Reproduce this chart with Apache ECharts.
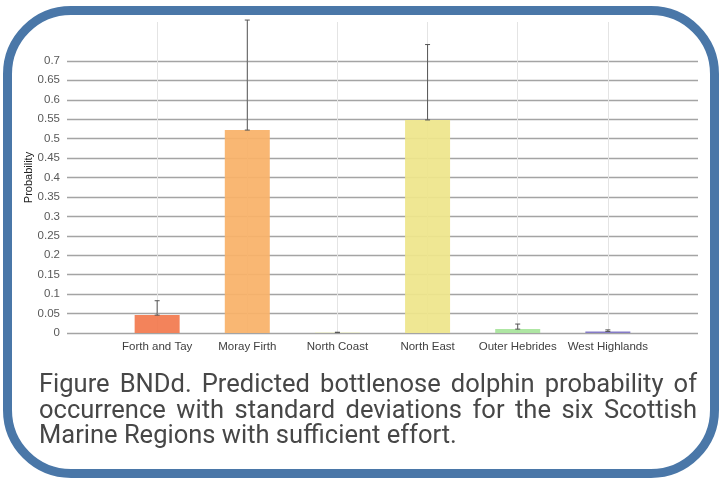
<!DOCTYPE html>
<html>
<head>
<meta charset="utf-8">
<script src="https://cdn.jsdelivr.net/npm/echarts@6/dist/echarts.min.js"></script>
<style>
  html, body { margin: 0; padding: 0; background: #ffffff; }
  #wrap { position: relative; width: 721px; height: 479px; overflow: hidden; background: #ffffff; }
  #frame {
    position: absolute; left: 3px; top: 6px; width: 716px; height: 472px;
    box-sizing: border-box; border: 9px solid #4a77a8; border-radius: 68px;
  }
  #chart { position: absolute; left: 0; top: 0; width: 721px; height: 479px; }
  #caption {
    position: absolute; left: 39px; top: 371px; width: 658px;
    font-family: Roboto, "Noto Sans", sans-serif; font-size: 25.5px; line-height: 25.5px;
    color: #474747;
  }
  #caption div { white-space: nowrap; }
  #caption .j { text-align: justify; text-align-last: justify; }
</style>
</head>
<body>
<div id="wrap">
  <div id="frame"></div>
  <div id="chart"></div>
  <div id="caption">
    <div class="j">Figure BNDd. Predicted bottlenose dolphin probability of</div>
    <div class="j">occurrence with standard deviations for the six Scottish</div>
    <div>Marine Regions with sufficient effort.</div>
  </div>
</div>
<script>
// Scottish Marine Regions and predicted occurrence probability (mean, standard deviation)
const regions = ['Forth and Tay', 'Moray Firth', 'North Coast', 'North East', 'Outer Hebrides', 'West Highlands'];
const meanProb = [0.046, 0.522, 0.001, 0.548, 0.010, 0.004];
const sdProb = [0.037, 0.283, 0.001, 0.194, 0.013, 0.004];
const barColors = ['#f27a4f', '#f9b168', '#eef0b8', '#eee58b', '#a8e49c', '#7d72c4'];

// Value-axis settings
const yMin = 0;
const yMax = 0.8;
const yStep = 0.05;
const yLabelMax = 0.7;

// Empty categories at both ends give the half-band margins of the axis
const axisCategories = [''].concat(regions, ['']);

// Horizontal gridlines: grey up to 0.7, hidden above
const gridCount = Math.round((yMax - yMin) / yStep) + 1;
const gridColors = [];
for (let i = 0; i < gridCount; i++) {
  gridColors.push(yMin + i * yStep <= yLabelMax + 1e-9 ? '#a4a4a4' : 'rgba(0,0,0,0)');
}

const chart = echarts.init(document.getElementById('chart'), null, { renderer: 'canvas' });

chart.setOption({
  animation: false,
  backgroundColor: 'transparent',
  textStyle: { fontFamily: '"Liberation Sans", Arial, sans-serif' },
  grid: { left: 67, right: 23, top: 22, bottom: 146, containLabel: false },
  xAxis: {
    type: 'category',
    data: axisCategories,
    boundaryGap: false,
    axisLine: { show: false },
    axisTick: { show: false },
    axisLabel: { color: '#404040', fontSize: 11.5, margin: 8, interval: 0 },
    splitLine: {
      show: true, interval: 0, showMinLine: false, showMaxLine: false,
      lineStyle: { color: '#e4e4e4', width: 1 }
    }
  },
  yAxis: {
    type: 'value',
    min: yMin,
    max: yMax,
    interval: yStep,
    name: 'Probability',
    nameLocation: 'middle',
    nameRotate: 90,
    nameGap: 33,
    nameMoveOverlap: false,
    nameTextStyle: { color: '#222222', fontSize: 11 },
    axisLine: { show: false },
    axisTick: { show: false },
    axisLabel: {
      color: '#595959', fontSize: 11.5, margin: 7,
      formatter: function (v) { return v > yLabelMax + 1e-9 ? '' : String(+v.toFixed(2)); }
    },
    splitLine: { show: true, showMaxLine: false, lineStyle: { color: gridColors, width: 1.3 } }
  },
  series: [
    {
      type: 'bar',
      barWidth: 45,
      data: regions.map(function (r, i) {
        return { value: [r, meanProb[i]], itemStyle: { color: barColors[i], opacity: 0.93 } };
      })
    },
    {
      type: 'custom',
      clip: false,
      z: 5,
      data: regions.map(function (r, i) { return [r, meanProb[i], sdProb[i]]; }),
      renderItem: function (params, api) {
        const x = api.value(0);
        const m = api.value(1);
        const s = api.value(2);
        const base = api.coord([x, m]);
        const top = api.coord([x, m + s]);
        const cap = 2.5;
        const style = { stroke: '#555555', lineWidth: 1 };
        return {
          type: 'group',
          children: [
            { type: 'line', shape: { x1: base[0], y1: base[1], x2: top[0], y2: top[1] }, style: style },
            { type: 'line', shape: { x1: top[0] - cap, y1: top[1], x2: top[0] + cap, y2: top[1] }, style: style },
            { type: 'line', shape: { x1: base[0] - cap, y1: base[1], x2: base[0] + cap, y2: base[1] }, style: style }
          ]
        };
      }
    }
  ]
});
</script>
</body>
</html>
